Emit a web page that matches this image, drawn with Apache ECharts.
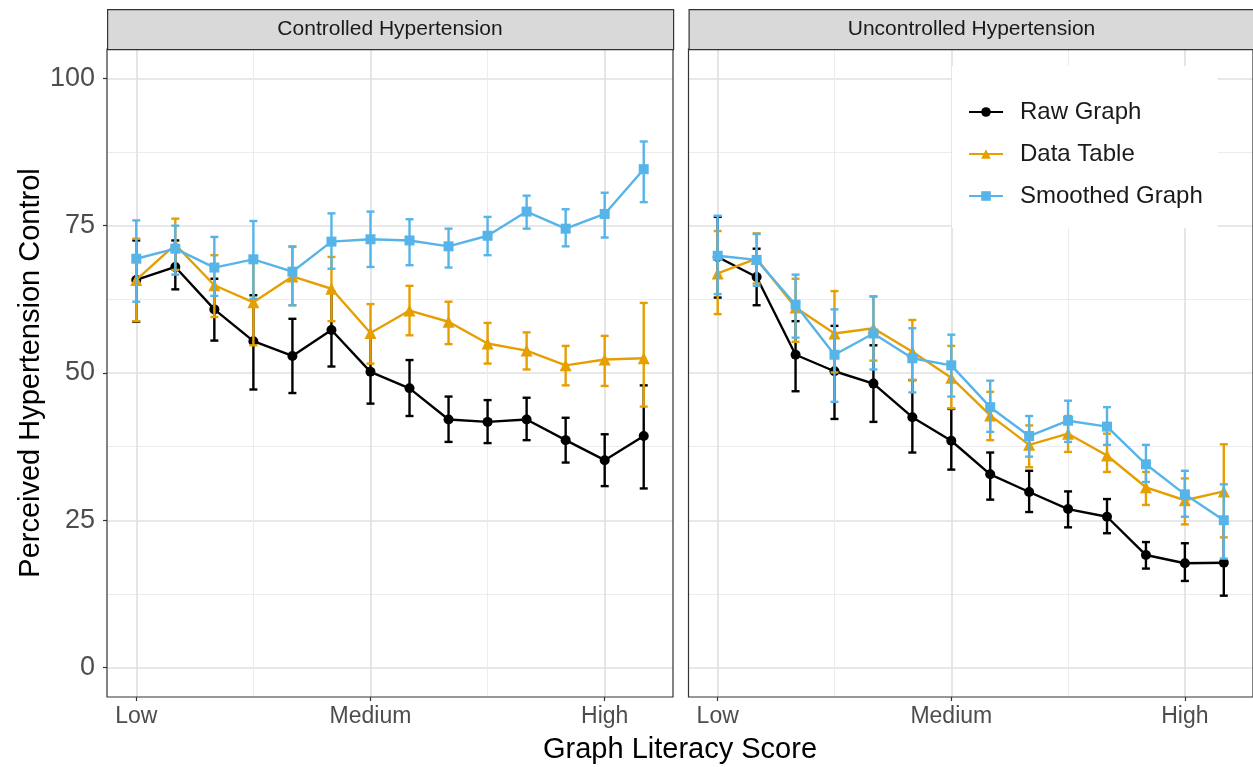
<!DOCTYPE html>
<html>
<head>
<meta charset="utf-8">
<script src="https://cdn.jsdelivr.net/npm/echarts@6/dist/echarts.min.js"></script>
<style>
html,body{margin:0;padding:0;background:#fff;}
#chart{width:1253px;height:767px;}
</style>
</head>
<body>
<div id="chart"></div>
<script>
// ---------- data ----------
const panels = ['Controlled Hypertension', 'Uncontrolled Hypertension'];
const seriesNames = ['Raw Graph', 'Data Table', 'Smoothed Graph'];
const xScores = [0, 1, 2, 3, 4, 5, 6, 7, 8, 9, 10, 11, 12, 13];
const xTickValues = [0, 6, 12];
const xTickLabels = ['Low', 'Medium', 'High'];
const yTickValues = [0, 25, 50, 75, 100];

// Controlled Hypertension
const ctrlRaw      = [65.8, 68.0, 60.8, 55.4, 52.9, 57.3, 50.2, 47.4, 42.1, 41.7, 42.1, 38.6, 35.2, 39.3];
const ctrlRawLo    = [58.7, 64.2, 55.5, 47.2, 46.6, 51.1, 44.8, 42.7, 38.3, 38.1, 38.6, 34.8, 30.8, 30.4];
const ctrlRawHi    = [72.5, 72.5, 66.0, 63.2, 59.2, 63.8, 56.0, 52.2, 46.0, 45.4, 45.8, 42.4, 39.6, 47.9];
const ctrlTable    = [65.8, 71.8, 64.9, 62.0, 66.4, 64.3, 56.8, 60.6, 58.7, 55.0, 53.8, 51.3, 52.3, 52.5];
const ctrlTableLo  = [58.8, 67.5, 59.5, 54.7, 61.5, 58.8, 51.6, 56.4, 54.9, 51.6, 50.6, 47.9, 47.8, 44.3];
const ctrlTableHi  = [72.8, 76.2, 70.0, 69.2, 71.4, 69.7, 61.7, 64.8, 62.1, 58.5, 56.9, 54.6, 56.3, 61.9];
const ctrlSmooth   = [69.4, 71.1, 67.9, 69.3, 67.2, 72.3, 72.7, 72.5, 71.5, 73.3, 77.4, 74.5, 77.0, 84.6];
const ctrlSmoothLo = [62.1, 66.7, 63.1, 62.6, 61.5, 67.7, 68.0, 68.3, 67.9, 70.0, 74.5, 71.5, 73.0, 79.0];
const ctrlSmoothHi = [75.9, 75.0, 73.1, 75.8, 71.5, 77.1, 77.4, 76.1, 74.5, 76.5, 80.1, 77.8, 80.6, 89.3];

// Uncontrolled Hypertension
const uncRaw      = [69.7, 66.3, 53.1, 50.3, 48.2, 42.5, 38.5, 32.8, 29.8, 26.9, 25.6, 19.1, 17.7, 17.8];
const uncRawLo    = [62.8, 61.5, 46.9, 42.2, 41.7, 36.5, 33.6, 28.5, 26.4, 23.8, 22.8, 16.8, 14.7, 12.2];
const uncRawHi    = [76.5, 71.1, 58.8, 58.0, 54.7, 48.8, 43.9, 36.5, 33.4, 29.9, 28.6, 21.3, 21.1, 24.7];
const uncTable    = [66.9, 69.4, 61.1, 56.7, 57.6, 53.6, 49.2, 42.8, 37.8, 39.7, 36.0, 30.6, 28.4, 29.9];
const uncTableLo  = [60.0, 65.2, 55.3, 50.1, 52.1, 48.8, 44.0, 38.6, 34.0, 36.6, 33.2, 27.6, 24.3, 22.1];
const uncTableHi  = [74.1, 73.7, 66.0, 63.9, 63.0, 59.0, 54.6, 46.8, 41.1, 42.7, 39.7, 33.2, 32.1, 37.9];
const uncSmooth   = [69.9, 69.2, 61.6, 53.1, 56.7, 52.5, 51.3, 44.2, 39.3, 41.9, 40.9, 34.5, 29.4, 25.0];
const uncSmoothLo = [63.4, 64.8, 56.0, 45.1, 50.6, 46.7, 46.0, 40.0, 35.8, 38.3, 37.8, 31.5, 25.6, 18.5];
const uncSmoothHi = [76.7, 73.6, 66.7, 60.8, 63.0, 57.6, 56.5, 48.7, 42.7, 45.3, 44.2, 37.8, 33.4, 31.1];

// ---------- styling ----------
const colors = ['#000000', '#E69F00', '#56B4E9'];
const symbols = ['circle', 'triangle', 'rect'];
const symbolSizes = [10, 12, 10];
const FONT = 'Liberation Sans, Arial, Helvetica, sans-serif';

const panelData = [
  [[ctrlRaw, ctrlRawLo, ctrlRawHi], [ctrlTable, ctrlTableLo, ctrlTableHi], [ctrlSmooth, ctrlSmoothLo, ctrlSmoothHi]],
  [[uncRaw, uncRawLo, uncRawHi], [uncTable, uncTableLo, uncTableHi], [uncSmooth, uncSmoothLo, uncSmoothHi]]
];

const gridBoxes = [
  {left: 107, top: 49, width: 566, height: 648},
  {left: 688.5, top: 49, width: 566, height: 648}
];

const grids = gridBoxes.map(b => ({
  left: b.left, top: b.top, width: b.width, height: b.height,
  show: true, borderColor: '#333333', borderWidth: 1.2, backgroundColor: 'transparent', z: 5
}));

const xAxes = gridBoxes.map((b, i) => ({
  type: 'value', gridIndex: i, min: -0.75, max: 13.75,
  axisLine: {show: false, onZero: false},
  splitLine: {show: false},
  axisTick: {show: true, customValues: xTickValues, length: 4, lineStyle: {color: '#333', width: 1.2}},
  axisLabel: {
    customValues: xTickValues,
    formatter: v => xTickLabels[xTickValues.indexOf(v)],
    color: '#4d4d4d', fontSize: 23, fontFamily: FONT, margin: 8
  }
}));

const yAxes = gridBoxes.map((b, i) => ({
  type: 'value', gridIndex: i, min: -5, max: 105,
  axisLine: {show: false, onZero: false},
  splitLine: {show: false},
  axisTick: {show: i === 0, customValues: yTickValues, length: 4, lineStyle: {color: '#333', width: 1.2}},
  axisLabel: {show: i === 0, customValues: yTickValues, color: '#4d4d4d', fontSize: 27, fontFamily: FONT, margin: 12},
  name: i === 0 ? 'Perceived Hypertension Control' : '',
  nameLocation: 'middle', nameGap: 62, nameRotate: 90,
  nameTextStyle: {color: '#000', fontSize: 29, fontFamily: FONT}
}));

const series = [];

// line series first (legend takes its icons from these)
gridBoxes.forEach((b, p) => {
  seriesNames.forEach((name, s) => {
    const mean = panelData[p][s][0];
    const col = colors[s];
    series.push({
      type: 'line', name: name, xAxisIndex: p, yAxisIndex: p, z: 3 + s * 2,
      data: xScores.map((x, k) => [x, mean[k]]),
      symbol: symbols[s], symbolSize: symbolSizes[s], showSymbol: true,
      lineStyle: {color: col, width: 2.4},
      itemStyle: {color: col},
      color: col,
      animation: false
    });
  });
});

// gridlines via markLine on an empty series per panel
const majorY = [0, 25, 50, 75, 100], minorY = [12.5, 37.5, 62.5, 87.5];
const majorX = [0, 6, 12], minorX = [3, 9];
gridBoxes.forEach((b, i) => {
  const lines = [];
  majorY.forEach(v => lines.push({yAxis: v, lineStyle: {color: '#e0e0e0', width: 1.6, type: 'solid'}}));
  minorY.forEach(v => lines.push({yAxis: v, lineStyle: {color: '#ececec', width: 1, type: 'solid'}}));
  majorX.forEach(v => lines.push({xAxis: v, lineStyle: {color: '#e0e0e0', width: 1.6, type: 'solid'}}));
  minorX.forEach(v => lines.push({xAxis: v, lineStyle: {color: '#ececec', width: 1, type: 'solid'}}));
  series.push({
    type: 'line', name: 'grid' + i, xAxisIndex: i, yAxisIndex: i, data: [], silent: true, z: 0,
    markLine: {silent: true, symbol: 'none', label: {show: false}, animation: false, data: lines, z: 0}
  });
});

// error bars
gridBoxes.forEach((b, p) => {
  seriesNames.forEach((name, s) => {
    const lo = panelData[p][s][1], hi = panelData[p][s][2];
    const col = colors[s];
    series.push({
      type: 'custom', name: name + ' error', xAxisIndex: p, yAxisIndex: p, z: 2 + s * 2,
      data: xScores.map((x, k) => [x, lo[k], hi[k]]),
      encode: {x: 0, y: [1, 2]},
      itemStyle: {color: col},
      silent: true,
      renderItem: function (params, api) {
        const x = api.value(0);
        const a = api.coord([x, api.value(1)]);
        const c = api.coord([x, api.value(2)]);
        const hw = 4;
        const st = {stroke: col, lineWidth: 2.4};
        return {type: 'group', children: [
          {type: 'line', shape: {x1: a[0], y1: a[1], x2: c[0], y2: c[1]}, style: st},
          {type: 'line', shape: {x1: a[0] - hw, y1: a[1], x2: a[0] + hw, y2: a[1]}, style: st},
          {type: 'line', shape: {x1: c[0] - hw, y1: c[1], x2: c[0] + hw, y2: c[1]}, style: st}
        ]};
      }
    });
  });
});

const graphics = [];
gridBoxes.forEach((b, i) => {
  graphics.push({
    type: 'rect', left: b.left, top: 9, z: 10,
    shape: {width: b.width, height: 40},
    style: {fill: '#d9d9d9', stroke: '#333333', lineWidth: 1.2}
  });
  graphics.push({
    type: 'text', z: 11,
    x: b.left + b.width / 2, y: 29,
    style: {text: panels[i], fill: '#1a1a1a', font: '21px ' + FONT, textAlign: 'center', textVerticalAlign: 'middle'}
  });
});
graphics.push({
  type: 'text', z: 11, x: 680, y: 750,
  style: {text: 'Graph Literacy Score', fill: '#000', font: '29px ' + FONT, textAlign: 'center', textVerticalAlign: 'middle'}
});

const option = {
  animation: false,
  backgroundColor: '#ffffff',
  grid: grids,
  xAxis: xAxes,
  yAxis: yAxes,
  legend: {
    data: seriesNames,
    orient: 'vertical',
    left: 952, top: 66,
    backgroundColor: '#ffffff',
    padding: [34, 15, 20, 16],
    itemWidth: 34, itemHeight: 12, itemGap: 18,
    textStyle: {fontSize: 24, color: '#1a1a1a', fontFamily: FONT, padding: [0, 0, 0, 12]},
    z: 20
  },
  graphic: graphics,
  series: series
};

const chart = echarts.init(document.getElementById('chart'), null, {renderer: 'canvas'});
chart.setOption(option);
</script>
</body>
</html>
